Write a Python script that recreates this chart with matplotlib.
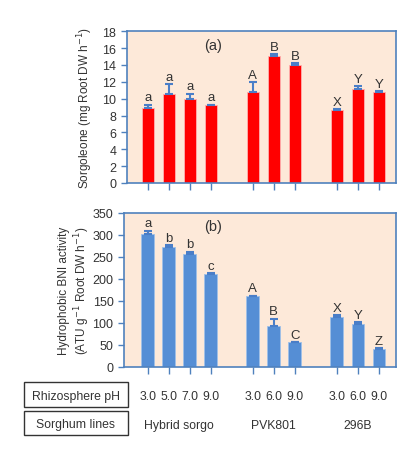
import matplotlib
matplotlib.use("Agg")
import matplotlib.pyplot as plt
from matplotlib.patches import Rectangle
import matplotlib.transforms as mtransforms

plt.rcParams['font.family'] = ['Liberation Sans', 'DejaVu Sans']

# Data
positions = [0, 1, 2, 3, 5, 6, 7, 9, 10, 11]
ph_labels = ["3.0", "5.0", "7.0", "9.0", "3.0", "6.0", "9.0", "3.0", "6.0", "9.0"]
lines = ["Hybrid sorgo", "PVK801", "296B"]
line_centers = [1.5, 6, 10]

sorg_vals = [8.9, 10.5, 10.0, 9.2, 10.8, 15.1, 14.0, 8.6, 11.1, 10.8]
sorg_err = [0.4, 1.2, 0.6, 0.1, 1.2, 0.2, 0.2, 0.2, 0.4, 0.1]
sorg_letters = ["a", "a", "a", "a", "A", "B", "B", "X", "Y", "Y"]

bni_vals = [303, 273, 256, 211, 161, 92, 56, 113, 98, 42]
bni_err = [7, 3, 6, 2, 1, 18, 1, 4, 4, 1]
bni_letters = ["a", "b", "b", "c", "A", "B", "C", "X", "Y", "Z"]

bg = "#FDE9D9"
spine_c = "#4F81BD"
err_c = "#4A7EC8"
txt_c = "#333333"

fig = plt.figure(figsize=(4.2, 4.6), dpi=100)

def style(ax, ylim, yticks):
    ax.set_facecolor(bg)
    for s in ax.spines.values():
        s.set_color(spine_c)
        s.set_linewidth(1.2)
    ax.set_ylim(*ylim)
    ax.set_yticks(yticks)
    ax.set_xticks(positions)
    ax.set_xticklabels([])
    ax.tick_params(axis='both', colors=spine_c, labelcolor=txt_c, labelsize=9,
                   direction='out', length=4, width=1.0)
    ax.tick_params(axis='x', length=5)

# Top panel
ax1 = fig.add_axes([0.302, 0.6, 0.641, 0.330])
ax1.bar(positions, sorg_vals, width=0.6, color="#FF0000", edgecolor="#FFB0B0",
        linewidth=0.6, zorder=2)
ax1.errorbar(positions, sorg_vals, yerr=[[0] * len(sorg_err), sorg_err], fmt='none',
             ecolor=err_c, elinewidth=1.5, capsize=3, capthick=1.5, zorder=3)
ax1.set_xlim(-1.0, 11.82)
style(ax1, (0, 18), range(0, 19, 2))
for x, v, e, l in zip(positions, sorg_vals, sorg_err, sorg_letters):
    ax1.text(x, v + e + 0.15, l, ha='center', va='bottom', fontsize=9.5, color=txt_c)
ax1.text(3.1, 16.4, "(a)", ha='center', va='center', fontsize=10.5, color=txt_c)
ax1.set_ylabel("Sorgoleone (mg Root DW h$^{-1}$)", fontsize=8.5, color=txt_c)
ax1.yaxis.set_label_coords(-0.12, 0.5)

# Bottom panel
ax2 = fig.add_axes([0.295, 0.2, 0.648, 0.335])
ax2.bar(positions, bni_vals, width=0.6, color="#558ED5", edgecolor="#9FC0E8",
        linewidth=0.6, zorder=2)
ax2.errorbar(positions, bni_vals, yerr=[[0] * len(bni_err), bni_err], fmt='none',
             ecolor=err_c, elinewidth=1.5, capsize=3, capthick=1.5, zorder=3)
ax2.set_xlim(-1.13, 11.82)
style(ax2, (0, 350), range(0, 351, 50))
for x, v, e, l in zip(positions, bni_vals, bni_err, bni_letters):
    ax2.text(x, v + e + 3, l, ha='center', va='bottom', fontsize=9.5, color=txt_c)
ax2.text(3.1, 321, "(b)", ha='center', va='center', fontsize=10.5, color=txt_c)
ax2.set_ylabel("Hydrophobic BNI activity\n(ATU g$^{-1}$ Root DW h$^{-1}$)", fontsize=8.5,
               color=txt_c, linespacing=1.15)
ax2.yaxis.set_label_coords(-0.118, 0.5)

# Table-like labels below
W, H = 420, 460
def fy(py):
    return 1 - py / H

fig.patches.append(Rectangle((24 / W, fy(408)), 104 / W, 25 / H, transform=fig.transFigure,
                             fill=False, edgecolor="#333333", linewidth=1.0))
fig.patches.append(Rectangle((24 / W, fy(436)), 104 / W, 24 / H, transform=fig.transFigure,
                             fill=False, edgecolor="#333333", linewidth=1.0))
fig.text(76 / W, fy(397), "Rhizosphere pH", ha='center', va='center', fontsize=8.8, color=txt_c)
fig.text(76 / W, fy(425), "Sorghum lines", ha='center', va='center', fontsize=8.8, color=txt_c)

trans = mtransforms.blended_transform_factory(ax2.transData, fig.transFigure)
for x, l in zip(positions, ph_labels):
    fig.text(x, fy(397), l, transform=trans, ha='center', va='center', fontsize=8.8, color=txt_c)
for x, l in zip(line_centers, lines):
    fig.text(x, fy(426), l, transform=trans, ha='center', va='center', fontsize=8.8, color=txt_c)

fig.savefig("out.png", dpi=100, facecolor="white")
